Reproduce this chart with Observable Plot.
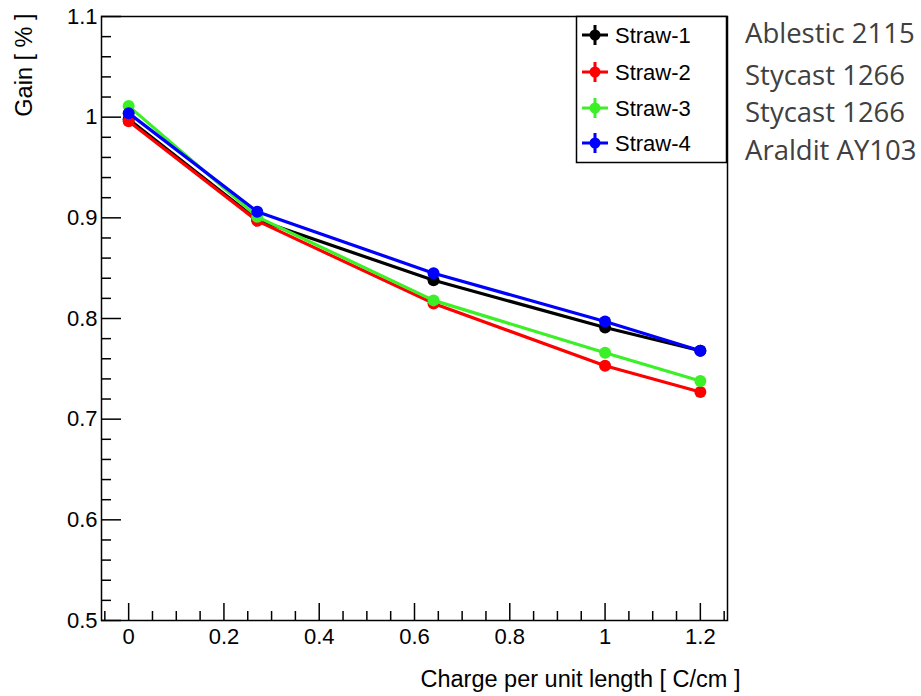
<!DOCTYPE html>
<html>
<head>
<meta charset="utf-8">
<script src="https://cdn.jsdelivr.net/npm/d3@7"></script>
<script src="https://cdn.jsdelivr.net/npm/@observablehq/plot@0.6"></script>
<style>
  body { margin: 0; background: #fff; }
  #wrap { position: relative; width: 921px; height: 696px; }
  #overlay { position: absolute; left: 0; top: 0; pointer-events: none; }
</style>
</head>
<body>
<div id="wrap"></div>
<script>
// ---- data ----
const charge = [0, 0.27, 0.64, 1.0, 1.2];
const straw1 = [0.998, 0.898, 0.838, 0.791, 0.768];
const straw2 = [0.996, 0.897, 0.815, 0.753, 0.727];
const straw3 = [1.011, 0.901, 0.818, 0.766, 0.738];
const straw4 = [1.004, 0.906, 0.845, 0.797, 0.768];
const seriesNames = ["Straw-1", "Straw-2", "Straw-3", "Straw-4"];
const seriesColors = ["#000000", "#ff0000", "#3cf028", "#0000ff"];
const materials = ["Ablestic 2115", "Stycast 1266", "Stycast 1266", "Araldit AY103"];
const xMajorTicks = [0, 0.2, 0.4, 0.6, 0.8, 1.0, 1.2];
const yMajorTicks = [0.5, 0.6, 0.7, 0.8, 0.9, 1.0, 1.1];
const xTitle = "Charge per unit length [ C/cm ]";
const yTitle = "Gain [ % ]";

const allSeries = [straw1, straw2, straw3, straw4];
const rows = [];
allSeries.forEach((vals, si) => vals.forEach((v, i) => rows.push({series: seriesNames[si], x: charge[i], y: v})));

const xMinor = d3.range(-0.05, 1.2501, 0.05).map(d => +d.toFixed(3)).filter(d => !xMajorTicks.some(m => Math.abs(m - d) < 1e-6));
const yMinor = d3.range(0.5, 1.1001, 0.02).map(d => +d.toFixed(3)).filter(d => !yMajorTicks.some(m => Math.abs(m - d) < 1e-6));

const frameW = 921 - 101 - 194, frameH = 696 - 16 - 76;

const marks = [
  Plot.frame({stroke: "#000", strokeWidth: 1.5}),
  Plot.tickX(xMajorTicks, {x: d => d, insetTop: frameH - 17, stroke: "#000", strokeWidth: 1.5}),
  Plot.tickX(xMinor, {x: d => d, insetTop: frameH - 9, stroke: "#000", strokeWidth: 1.5}),
  Plot.tickY(yMajorTicks, {y: d => d, insetRight: frameW - 20, stroke: "#000", strokeWidth: 1.5}),
  Plot.tickY(yMinor, {y: d => d, insetRight: frameW - 10, stroke: "#000", strokeWidth: 1.5}),
  Plot.axisX(xMajorTicks, {tickSize: 0, tickPadding: 8, fontSize: 22, label: null, tickFormat: d => `${Math.round(d * 10) / 10}`}),
  Plot.axisY(yMajorTicks, {tickSize: 0, tickPadding: 4, fontSize: 22, label: null, tickFormat: d => `${Math.round(d * 10) / 10}`}),
];
seriesNames.forEach((name, si) => {
  const data = rows.filter(r => r.series === name);
  marks.push(Plot.line(data, {x: "x", y: "y", stroke: seriesColors[si], strokeWidth: 3.2}));
  marks.push(Plot.dot(data, {x: "x", y: "y", r: 6, fill: seriesColors[si], stroke: "none"}));
});
marks.push(Plot.text([xTitle], {frameAnchor: "bottom-right", dx: 13, dy: 66, textAnchor: "end", fontSize: 23.5, fill: "#000"}));
marks.push(Plot.text([yTitle], {frameAnchor: "top-left", dx: -86, dy: -3, rotate: -90, textAnchor: "end", fontSize: 23.5, fill: "#000"}));

const chart = Plot.plot({
  width: 921,
  height: 696,
  marginLeft: 101,
  marginRight: 194,
  marginTop: 16,
  marginBottom: 76,
  style: {background: "#fff", fontFamily: "'Liberation Sans', Arial, sans-serif", color: "#000"},
  x: {domain: [-0.057, 1.257]},
  y: {domain: [0.5, 1.1]},
  marks
});
document.getElementById("wrap").appendChild(chart);

// ---- legend and annotations overlay ----
const svg = d3.select("#wrap").append("svg")
  .attr("id", "overlay").attr("width", 921).attr("height", 696);
const lg = svg.append("g");
lg.append("rect").attr("x", 576.5).attr("y", 16.5).attr("width", 150).attr("height", 146)
  .attr("fill", "#fff").attr("stroke", "#000").attr("stroke-width", 1.5);
const entryY = [35, 72, 108, 143];
seriesNames.forEach((name, i) => {
  const cy = entryY[i];
  lg.append("line").attr("x1", 582).attr("x2", 608).attr("y1", cy).attr("y2", cy)
    .attr("stroke", seriesColors[i]).attr("stroke-width", 3);
  lg.append("line").attr("x1", 595).attr("x2", 595).attr("y1", cy - 10).attr("y2", cy + 10)
    .attr("stroke", seriesColors[i]).attr("stroke-width", 3);
  lg.append("circle").attr("cx", 595).attr("cy", cy).attr("r", 5.5).attr("fill", seriesColors[i]);
  lg.append("text").attr("x", 615).attr("y", cy).attr("dy", "0.36em")
    .attr("font-family", "'Liberation Sans', Arial, sans-serif").attr("font-size", 22)
    .attr("fill", "#000").text(name);
});
const annY = [43, 85, 122, 160];
materials.forEach((m, i) => {
  svg.append("text").attr("x", 745).attr("y", annY[i])
    .attr("font-family", "'Open Sans', sans-serif").attr("font-size", 27.5)
    .attr("fill", "#404040").text(m);
});
</script>
</body>
</html>
